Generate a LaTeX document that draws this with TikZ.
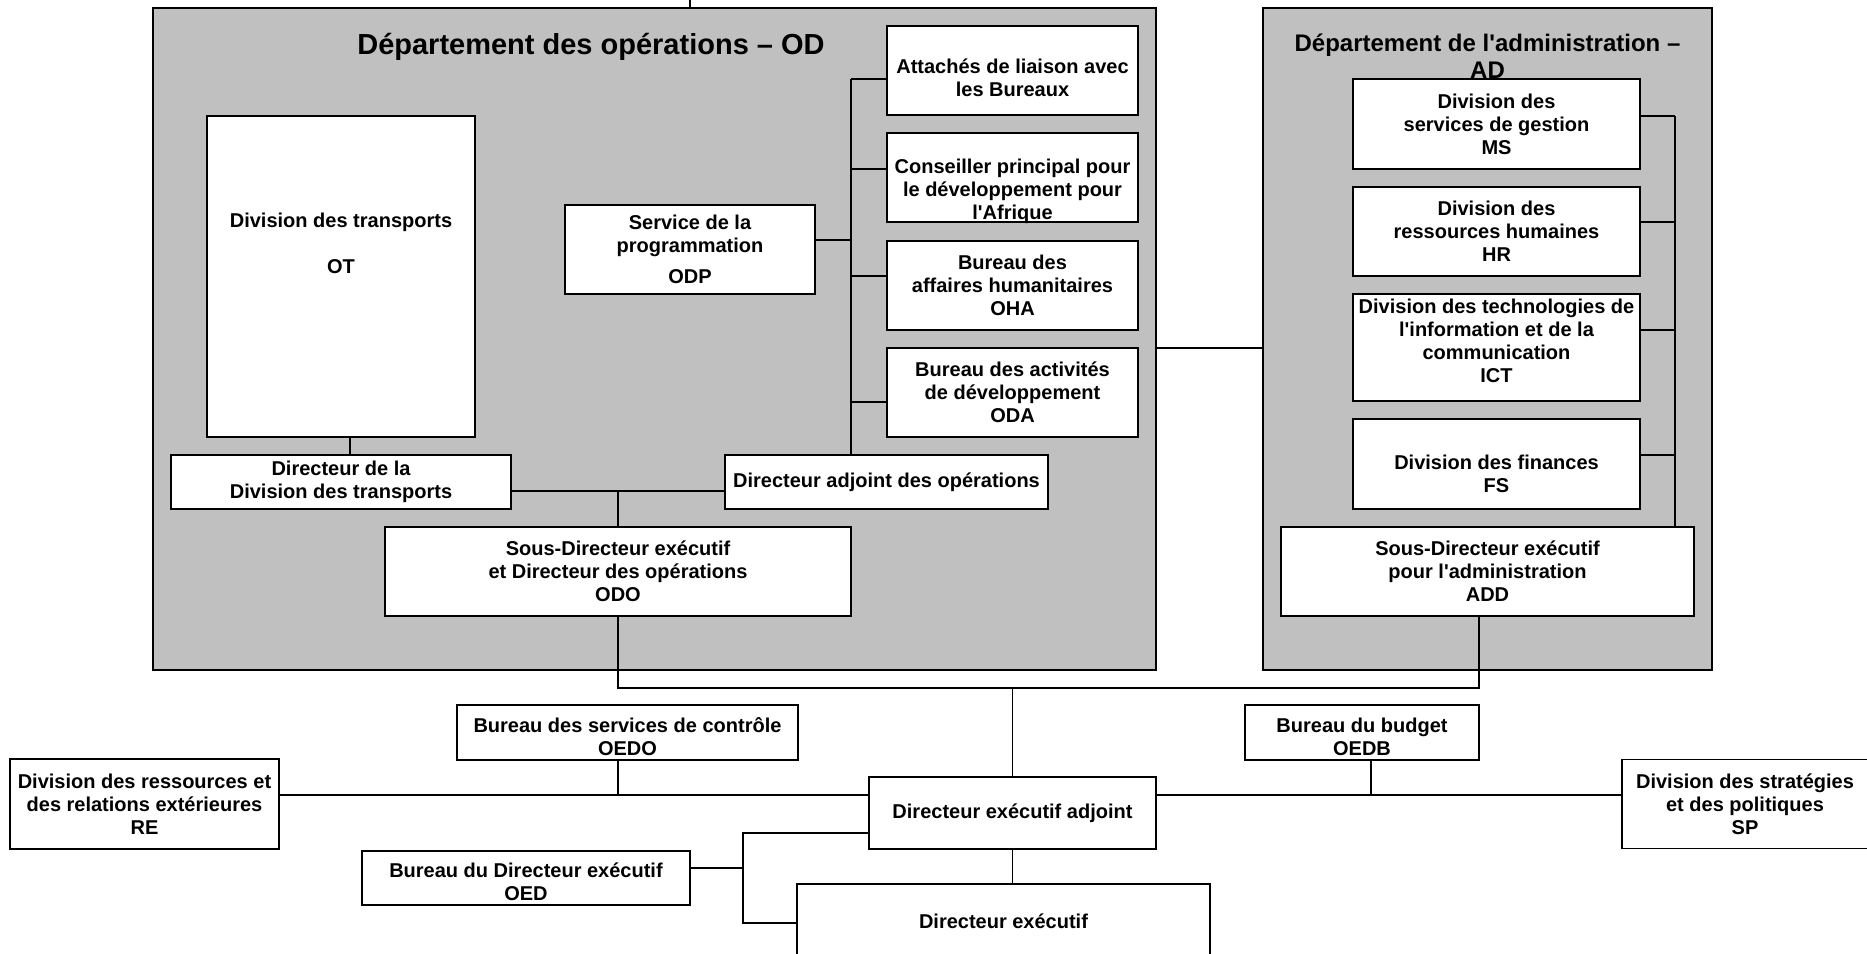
\documentclass[tikz,border=0pt]{standalone}
\usepackage{fontspec}
\setmainfont{Liberation Sans}
\definecolor{deptgray}{RGB}{192,192,192}
\begin{document}
\begin{tikzpicture}[x=1pt,y=-1pt,
  box/.style={draw, line width=1.8pt, fill=white, inner sep=0pt, align=center, font=\fontsize{20}{23}\selectfont\bfseries},
  txt/.style={inner sep=0pt, align=center, font=\fontsize{20}{23}\selectfont\bfseries},
  dept/.style={draw, line width=2.8pt, fill=deptgray, inner sep=0pt},
  conn/.style={line width=1.4pt},
]
\useasboundingbox (0,0) rectangle (1867,953);
\clip (0,0) rectangle (1867,953);
\fill[white] (0,0) rectangle (1867,953);

% departments
\node[dept, minimum width=1003pt, minimum height=662pt] (OD) at (654.5,339) {};
\node[dept, minimum width=449pt, minimum height=662pt] (AD) at (1487.5,339) {};
\coordinate (up) at (690,-20);
\draw[conn] (up) -- (up |- OD.north);

\node[txt, font=\fontsize{29}{33}\selectfont\bfseries] (ODt) at (591,47) {Département des opérations – OD};
\node[txt, font=\fontsize{24}{27}\selectfont\bfseries] (ADt) at (1487.5,56.5) {Département de l\textquotesingle administration –\\AD};

% operations department
\node[box, minimum width=251pt, minimum height=89pt] (att) at (1012.5,70.5) {};
\node[txt] (attt) at (1012.5,78) {Attachés de liaison avec\\les Bureaux};
\node[box, minimum width=251pt, minimum height=89pt] (cons) at (1012.5,177.5) {};
\node[txt] (const) at (1012.5,191) {Conseiller principal pour\\le développement pour\\l\textquotesingle Afrique};
\node[box, minimum width=251pt, minimum height=89pt] (oha) at (1012.5,285.5) {Bureau des\\affaires humanitaires\\OHA};
\node[box, minimum width=251pt, minimum height=89pt] (oda) at (1012.5,392.5) {Bureau des activités\\de développement\\ODA};
\node[box, minimum width=250pt, minimum height=89pt] (odp) at (690,249.5) {Service de la\\programmation\\[8pt]ODP};
\node[box, minimum width=268pt, minimum height=321pt] (ot) at (341,276.5) {};
\node[txt] (ott) at (341,243) {Division des transports\\[23pt]OT};
\node[box, minimum width=340pt, minimum height=54pt] (dt) at (341,482) {Directeur de la\\Division des transports};
\node[box, minimum width=323pt, minimum height=54pt] (dadj) at (886.5,482) {Directeur adjoint des opérations};
\node[box, minimum width=466pt, minimum height=89pt] (odo) at (618,571.5) {Sous-Directeur exécutif\\et Directeur des opérations\\ODO};

% administration department
\node[box, minimum width=287pt, minimum height=90pt] (ms) at (1496.5,124) {Division des\\services de gestion\\MS};
\node[box, minimum width=287pt, minimum height=89pt] (hr) at (1496.5,231.5) {Division des\\ressources humaines\\HR};
\node[box, minimum width=287pt, minimum height=107pt] (ict) at (1496.5,347.5) {};
\node[txt] (ictt) at (1496.5,341) {Division des technologies de\\l\textquotesingle information et de la\\communication\\ICT};
\node[box, minimum width=287pt, minimum height=90pt] (fs) at (1496.5,464) {};
\node[txt] (fst) at (1496.5,473.5) {Division des finances\\FS};
\node[box, minimum width=413pt, minimum height=89pt] (add) at (1487.5,571.5) {Sous-Directeur exécutif\\pour l\textquotesingle administration\\ADD};

% executive level
\node[box, minimum width=341pt, minimum height=55pt] (oedo) at (627.5,732.5) {};
\node[txt] (oedot) at (627.5,737) {Bureau des services de contrôle\\OEDO};
\node[box, minimum width=234pt, minimum height=55pt] (oedb) at (1362,732.5) {};
\node[txt] (oedbt) at (1362,737) {Bureau du budget\\OEDB};
\node[box, minimum width=269pt, minimum height=90pt] (re) at (144.5,804) {Division des ressources et\\des relations extérieures\\RE};
\node[box, minimum width=246pt, minimum height=89pt] (sp) at (1745,804) {Division des stratégies\\et des politiques\\SP};
\node[box, minimum width=287pt, minimum height=72pt] (dea) at (1012.5,813) {Directeur exécutif adjoint};
\node[box, minimum width=328pt, minimum height=54pt] (oed) at (526,878) {};
\node[txt] (oedt) at (526,881.5) {Bureau du Directeur exécutif\\OED};
\node[box, minimum width=413pt, minimum height=74pt] (de) at (1003.5,921) {Directeur exécutif};

% connectors inside OD
\coordinate (b1) at (851,79);
\coordinate (b1b) at (851,169);
\coordinate (b1c) at (851,276);
\coordinate (b1d) at (851,402);
\coordinate (b1p) at (851,240);
\draw[conn] (b1) -- (b1 |- dadj.north);
\draw[conn] (b1) -- (att.west |- b1);
\draw[conn] (b1b) -- (cons.west |- b1b);
\draw[conn] (b1c) -- (oha.west |- b1c);
\draw[conn] (b1d) -- (oda.west |- b1d);
\draw[conn] (odp.east |- b1p) -- (b1p);
\coordinate (otx) at (350,0);
\draw[conn] (ot.south -| otx) -- (dt.north -| otx);
\coordinate (j1) at (618,491);
\draw[conn] (dt.east |- j1) -- (dadj.west |- j1);
\draw[conn] (j1) -- (odo.north -| j1);

% connectors inside AD
\coordinate (b2) at (1675,116);
\coordinate (b2b) at (1675,222);
\coordinate (b2c) at (1675,330);
\coordinate (b2d) at (1675,455);
\draw[conn] (b2) -- (b2 |- add.north);
\draw[conn] (b2) -- (ms.east |- b2);
\draw[conn] (b2b) -- (hr.east |- b2b);
\draw[conn] (b2c) -- (ict.east |- b2c);
\draw[conn] (b2d) -- (fs.east |- b2d);

% OD - AD link
\coordinate (lk) at (1156,348);
\draw[conn] (OD.east |- lk) -- (AD.west |- lk);

% ODO / ADD to DEA
\coordinate (j2) at (618,688);
\coordinate (j3) at (1479,688);
\coordinate (j4) at (1012.5,688);
\draw[conn] (odo.south -| j2) -- (j2) -- (j3) -- (add.south -| j3);
\draw[conn] (j4) -- (dea.north);

% horizontal staff line
\coordinate (h1) at (618,795);
\coordinate (h2) at (1371,795);
\draw[conn] (re.east |- h1) -- (dea.west |- h1);
\draw[conn] (oedo.south -| h1) -- (h1);
\draw[conn] (dea.east |- h2) -- (sp.west |- h2);
\draw[conn] (oedb.south -| h2) -- (h2);

% DEA - DE and OED branch
\draw[conn] (dea.south) -- (de.north -| dea.south);
\coordinate (br1) at (743,833);
\coordinate (br2) at (743,868);
\coordinate (br3) at (743,923);
\draw[conn] (dea.west |- br1) -- (br1) -- (br3) -- (de.west |- br3);
\draw[conn] (oed.east |- br2) -- (br2);
\end{tikzpicture}
\end{document}
